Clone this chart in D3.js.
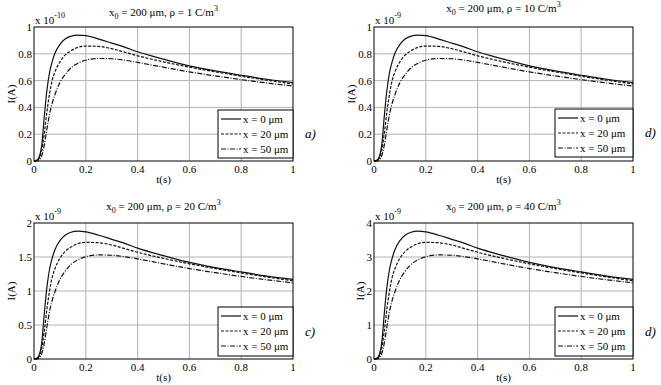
<!DOCTYPE html>
<html>
<head>
<meta charset="utf-8">
<script src="https://cdn.jsdelivr.net/npm/d3@7"></script>
<style>
  body { margin: 0; background: #fff; }
</style>
</head>
<body>
<svg width="661" height="385"></svg>
<script>
// time samples (s)
const tValues = [0, 0.01, 0.02, 0.03, 0.04, 0.05, 0.06, 0.07, 0.08, 0.1, 0.12, 0.14, 0.17, 0.2, 0.25, 0.3, 0.35, 0.4, 0.5, 0.6, 0.7, 0.8, 0.9, 1];

// rho = 1 C/m^3 (x 1e-10) and rho = 10 C/m^3 (x 1e-9) read the same on their axes
const rho1_x0  = [0, 0.005, 0.03, 0.12, 0.34, 0.53, 0.66, 0.74, 0.80, 0.87, 0.91, 0.93, 0.94, 0.935, 0.91, 0.88, 0.85, 0.815, 0.76, 0.71, 0.672, 0.64, 0.61, 0.585];
const rho1_x20 = [0, 0.002, 0.02, 0.08, 0.21, 0.37, 0.50, 0.60, 0.66, 0.74, 0.79, 0.82, 0.848, 0.858, 0.855, 0.838, 0.812, 0.785, 0.74, 0.70, 0.665, 0.633, 0.603, 0.575];
const rho1_x50 = [0, 0.001, 0.01, 0.04, 0.12, 0.24, 0.35, 0.43, 0.49, 0.585, 0.645, 0.69, 0.73, 0.752, 0.765, 0.763, 0.752, 0.736, 0.70, 0.665, 0.635, 0.607, 0.582, 0.56];

// rho = 20 C/m^3 (x 1e-9)
const rho20_x0  = [0, 0.01, 0.06, 0.24, 0.68, 1.06, 1.32, 1.48, 1.6, 1.74, 1.82, 1.86, 1.88, 1.87, 1.82, 1.76, 1.7, 1.63, 1.52, 1.42, 1.344, 1.28, 1.22, 1.17];
const rho20_x20 = [0, 0.004, 0.04, 0.16, 0.42, 0.74, 1.0, 1.2, 1.32, 1.48, 1.58, 1.64, 1.696, 1.716, 1.71, 1.676, 1.624, 1.57, 1.48, 1.4, 1.33, 1.266, 1.206, 1.15];
const rho20_x50 = [0, 0.002, 0.02, 0.08, 0.24, 0.48, 0.7, 0.86, 0.98, 1.17, 1.29, 1.38, 1.46, 1.504, 1.53, 1.526, 1.504, 1.472, 1.4, 1.33, 1.27, 1.214, 1.164, 1.12];

// rho = 40 C/m^3 (x 1e-9)
const rho40_x0  = [0, 0.02, 0.12, 0.48, 1.36, 2.12, 2.64, 2.96, 3.2, 3.48, 3.64, 3.72, 3.76, 3.74, 3.64, 3.52, 3.4, 3.26, 3.04, 2.84, 2.688, 2.56, 2.44, 2.34];
const rho40_x20 = [0, 0.008, 0.08, 0.32, 0.84, 1.48, 2.0, 2.4, 2.64, 2.96, 3.16, 3.28, 3.392, 3.432, 3.42, 3.352, 3.248, 3.14, 2.96, 2.8, 2.66, 2.532, 2.412, 2.3];
const rho40_x50 = [0, 0.004, 0.04, 0.16, 0.48, 0.96, 1.4, 1.72, 1.96, 2.34, 2.58, 2.76, 2.92, 3.008, 3.06, 3.052, 3.008, 2.944, 2.8, 2.66, 2.54, 2.428, 2.328, 2.24];

const legendLabels = ["x = 0 μm", "x = 20 μm", "x = 50 μm"];
const xTicks = [0, 0.2, 0.4, 0.6, 0.8, 1];

const panels = [
  { box: [34, 27, 293, 161], titleY: 16, rho: "1", exp: "-10", tag: "a)", yTicks: [0, 0.2, 0.4, 0.6, 0.8, 1],
    series: [rho1_x0, rho1_x20, rho1_x50], legendBox: [218, 110, 75, 48] },
  { box: [374, 27, 633, 161], titleY: 12, rho: "10", exp: "-9", tag: "d)", yTicks: [0, 0.2, 0.4, 0.6, 0.8, 1],
    series: [rho1_x0, rho1_x20, rho1_x50], legendBox: [555, 109, 78, 48] },
  { box: [34, 223, 293, 359], titleY: 210, rho: "20", exp: "-9", tag: "c)", yTicks: [0, 0.5, 1, 1.5, 2],
    series: [rho20_x0, rho20_x20, rho20_x50], legendBox: [218, 307, 75, 49] },
  { box: [374, 223, 633, 359], titleY: 210, rho: "40", exp: "-9", tag: "d)", yTicks: [0, 1, 2, 3, 4],
    series: [rho40_x0, rho40_x20, rho40_x50], legendBox: [555, 307, 78, 49] }
];

const dashes = [null, "3,1.5", "5,1.5,1,1.5"];
const FONT = "Liberation Serif";

const svg = d3.select("svg");

panels.forEach(p => {
  const [x0, y0, x1, y1] = p.box;
  const yMax = p.yTicks[p.yTicks.length - 1];
  const x = d3.scaleLinear().domain([0, 1]).range([x0, x1]);
  const y = d3.scaleLinear().domain([0, yMax]).range([y1, y0]);
  const g = svg.append("g").attr("font-family", FONT);

  // grid
  g.append("g").selectAll("line").data(xTicks.slice(1, -1)).enter().append("line")
    .attr("x1", d => x(d)).attr("x2", d => x(d)).attr("y1", y0).attr("y2", y1)
    .attr("stroke", "#b3b3b3").attr("stroke-width", 1);
  g.append("g").selectAll("line").data(p.yTicks.slice(1, -1)).enter().append("line")
    .attr("y1", d => y(d)).attr("y2", d => y(d)).attr("x1", x0).attr("x2", x1)
    .attr("stroke", "#b3b3b3").attr("stroke-width", 1);

  // curves
  const line = d3.line().x((d, i) => x(tValues[i])).y(d => y(d)).curve(d3.curveMonotoneX);
  p.series.forEach((s, i) => {
    g.append("path").datum(s)
      .attr("d", line)
      .attr("fill", "none")
      .attr("stroke", "#111")
      .attr("stroke-width", 1.2)
      .attr("stroke-dasharray", dashes[i]);
  });

  // axes box
  g.append("rect").attr("x", x0).attr("y", y0).attr("width", x1 - x0).attr("height", y1 - y0)
    .attr("fill", "none").attr("stroke", "#000").attr("stroke-width", 1);

  // tick labels
  g.append("g").selectAll("text").data(xTicks).enter().append("text")
    .attr("x", d => x(d)).attr("y", y1 + 12)
    .attr("text-anchor", "middle").attr("font-size", 11)
    .text(d => d3.format("~g")(d));
  const yLab = g.append("g");
  yLab.selectAll("text").data(p.yTicks).enter().append("text")
    .attr("x", x0 - 2).attr("y", d => y(d) + 4)
    .attr("text-anchor", "end").attr("font-size", 11)
    .text(d => d3.format("~g")(d));
  const bb = yLab.node().getBBox();

  // axis labels
  g.append("text").attr("x", (x0 + x1) / 2).attr("y", y1 + 22)
    .attr("text-anchor", "middle").attr("font-size", 11).text("t(s)");
  g.append("text")
    .attr("transform", `translate(${bb.x - 3},${(y0 + y1) / 2}) rotate(-90)`)
    .attr("text-anchor", "middle").attr("font-size", 11).text("I(A)");

  // exponent
  const ex = g.append("text").attr("x", x0 + 1).attr("y", y0 - 3).attr("font-size", 11);
  ex.append("tspan").text("x 10");
  ex.append("tspan").attr("dy", -6).attr("font-size", 8).text(p.exp);

  // title
  const tt = g.append("text").attr("x", (x0 + x1) / 2).attr("y", p.titleY)
    .attr("text-anchor", "middle").attr("font-size", 11);
  tt.append("tspan").text("x");
  tt.append("tspan").attr("dy", 3).attr("font-size", 8).text("0");
  tt.append("tspan").attr("dy", -3).text(` = 200 μm, ρ = ${p.rho} C/m`);
  tt.append("tspan").attr("dy", -5).attr("font-size", 8).text("3");

  // legend
  const [lx, ly, lw, lh] = p.legendBox;
  const lg = g.append("g");
  lg.append("rect").attr("x", lx).attr("y", ly).attr("width", lw).attr("height", lh)
    .attr("fill", "#fff").attr("stroke", "#000").attr("stroke-width", 1);
  legendLabels.forEach((lab, i) => {
    const ry = ly + 9 + i * 15;
    lg.append("line").attr("x1", lx + 3).attr("x2", lx + 23).attr("y1", ry).attr("y2", ry)
      .attr("stroke", "#111").attr("stroke-width", 1.2).attr("stroke-dasharray", dashes[i]);
    lg.append("text").attr("x", lx + 25).attr("y", ry + 4).attr("font-size", 11).text(lab);
  });

  // panel tag
  g.append("text").attr("x", x1 + 12).attr("y", (ly + lh / 2) + 4)
    .attr("font-size", 13).attr("font-style", "italic").text(p.tag);
});
</script>
</body>
</html>
